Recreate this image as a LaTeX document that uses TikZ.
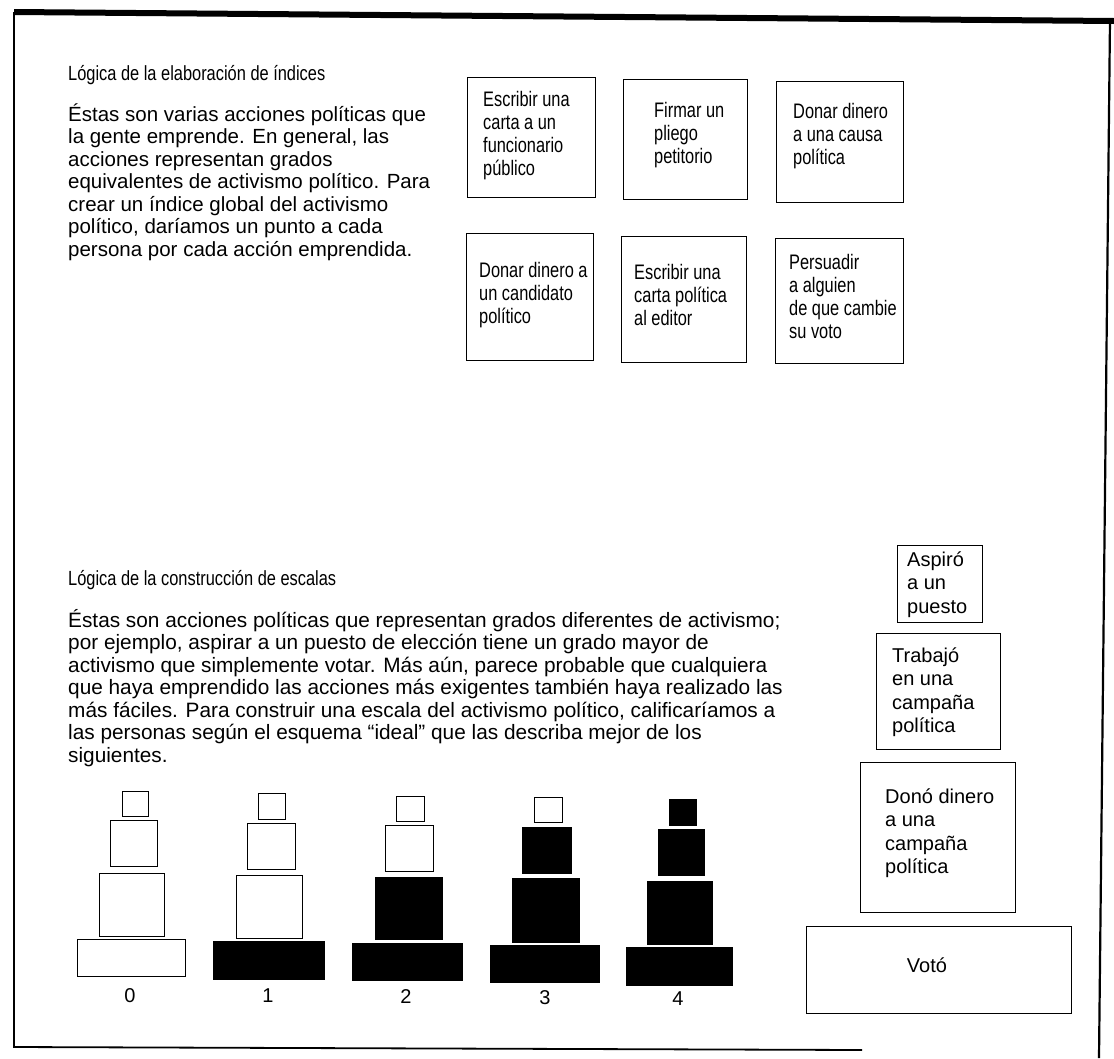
\documentclass[tikz,border=0pt]{standalone}
\usepackage{fontspec}
\setmainfont{Liberation Sans}
\newfontfamily\narrowfont[FakeStretch=0.8]{Liberation Sans}
\newfontfamily\boxfont[FakeStretch=0.78]{Liberation Sans}
\newcommand\lns[1]{\begin{tabular}[t]{@{}l@{}}#1\end{tabular}}
\newcommand\blk[6]{\node[#1, minimum width=#4pt, minimum height=#5pt] (#6) at (#2,#3) {};}
\begin{document}
\begin{tikzpicture}[x=1pt,y=-1pt,
  box/.style={draw, line width=1.4pt, inner sep=0pt, anchor=north west},
  wblk/.style={draw, line width=1.3pt, fill=white, inner sep=0pt, anchor=north west},
  kblk/.style={draw, line width=1.3pt, fill=black, inner sep=0pt, anchor=north west},
  ttl/.style={inner sep=0pt, anchor=base west, font={\narrowfont\fontsize{20.5}{23}\selectfont}},
  btxt/.style={inner sep=0pt, anchor=base west, font={\boxfont\fontsize{21}{23}\selectfont}},
  body/.style={inner sep=0pt, anchor=base west, font={\fontsize{20.5}{22.5}\selectfont}},
  bodyb/.style={inner sep=0pt, anchor=base west, font={\fontsize{20.8}{22.5}\selectfont}},
  rtxt/.style={inner sep=0pt, anchor=base west, font={\fontsize{20}{23.5}\selectfont}},
  num/.style={inner sep=0pt, anchor=base, font={\fontsize{20}{24}\selectfont}}
]
\useasboundingbox (0,0) rectangle (1114,1058);
\fill[white] (0,0) rectangle (1114,1058);

% frame
\coordinate (fTL) at (14,12);
\coordinate (fTR) at (1114,21);
\coordinate (fBL) at (14,1047);
\coordinate (fBR) at (862,1050);
\coordinate (fRT) at (1110,19);
\coordinate (fRB) at (1099,1058);
\draw[line width=6pt] (fTL) -- (fTR);
\draw[line width=1.8pt] (fTL) -- (fBL) -- (fBR);
\draw[line width=2.2pt] (fRT) -- (fRB);

% upper section
\node[ttl] (t1) at (68,80) {Lógica de la elaboración de índices};
\node[body] (p1) at (68,121) {\lns{Éstas son varias acciones políticas que\\
la gente emprende. En general, las\\
acciones representan grados\\
equivalentes de activismo político. Para\\
crear un índice global del activismo\\
político, daríamos un punto a cada\\
persona por cada acción emprendida.}};

\node[box, minimum width=128pt, minimum height=120pt] (b1) at (467,77) {};
\node[box, minimum width=124pt, minimum height=120pt] (b2) at (623,79) {};
\node[box, minimum width=127pt, minimum height=121pt] (b3) at (776,81) {};
\node[box, minimum width=127pt, minimum height=127pt] (b4) at (466,233) {};
\node[box, minimum width=125pt, minimum height=126pt] (b5) at (621,236) {};
\node[box, minimum width=128pt, minimum height=125pt] (b6) at (775,238) {};

\node[btxt] (b1t) at (483,106) {\lns{Escribir una\\carta a un\\funcionario\\público}};
\node[btxt] (b2t) at (654,117) {\lns{Firmar un\\pliego\\petitorio}};
\node[btxt] (b3t) at (793,118) {\lns{Donar dinero\\a una causa\\política}};
\node[btxt] (b4t) at (479,277) {\lns{Donar dinero a\\un candidato\\político}};
\node[btxt] (b5t) at (634,279) {\lns{Escribir una\\carta política\\al editor}};
\node[btxt] (b6t) at (789,269) {\lns{Persuadir\\a alguien\\de que cambie\\su voto}};

% lower section
\node[ttl] (t2) at (68,585) {Lógica de la construcción de escalas};
\node[bodyb] (p2) at (68,627) {\lns{Éstas son acciones políticas que representan grados diferentes de activismo;\\
por ejemplo, aspirar a un puesto de elección tiene un grado mayor de\\
activismo que simplemente votar. Más aún, parece probable que cualquiera\\
que haya emprendido las acciones más exigentes también haya realizado las\\
más fáciles. Para construir una escala del activismo político, calificaríamos a\\
las personas según el esquema “ideal” que las describa mejor de los\\
siguientes.}};

% right column
\node[box, minimum width=85pt, minimum height=77pt] (r1) at (897,545) {};
\node[box, minimum width=124pt, minimum height=116pt] (r2) at (876,633) {};
\node[box, minimum width=155pt, minimum height=150pt] (r3) at (860,762) {};
\node[box, minimum width=265pt, minimum height=87pt] (r4) at (806,926) {};
\node[rtxt] (r1t) at (907,566) {\lns{Aspiró\\a un\\puesto}};
\node[rtxt] (r2t) at (892,662) {\lns{Trabajó\\en una\\campaña\\política}};
\node[rtxt] (r3t) at (885,803) {\lns{Donó dinero\\a una\\campaña\\política}};
\node[num] (r4t) at (927,972) {Votó};

% towers
\blk{wblk}{122}{791}{26}{25}{t0a}
\blk{wblk}{110}{820}{47}{46}{t0b}
\blk{wblk}{99}{873}{65}{63}{t0c}
\blk{wblk}{77}{939}{108}{37}{t0d}

\blk{wblk}{258}{793}{27}{26}{t1a}
\blk{wblk}{247}{823}{48}{46}{t1b}
\blk{wblk}{236}{875}{66}{63}{t1c}
\blk{kblk}{213}{941}{111}{38}{t1d}

\blk{wblk}{396}{796}{28}{25}{t2a}
\blk{wblk}{385}{825}{48}{46}{t2b}
\blk{kblk}{375}{877}{67}{62}{t2c}
\blk{kblk}{352}{943}{110}{37}{t2d}

\blk{wblk}{534}{797}{28}{25}{t3a}
\blk{kblk}{522}{827}{49}{46}{t3b}
\blk{kblk}{512}{878}{67}{64}{t3c}
\blk{kblk}{490}{945}{109}{37}{t3d}

\blk{kblk}{669}{799}{27}{26}{t4a}
\blk{kblk}{658}{829}{46}{46}{t4b}
\blk{kblk}{647}{881}{65}{63}{t4c}
\blk{kblk}{626}{947}{106}{38}{t4d}

\node[num] (n0) at (130,1002) {0};
\node[num] (n1) at (268,1002) {1};
\node[num] (n2) at (406,1003) {2};
\node[num] (n3) at (545,1004) {3};
\node[num] (n4) at (678,1005) {4};
\end{tikzpicture}
\end{document}
